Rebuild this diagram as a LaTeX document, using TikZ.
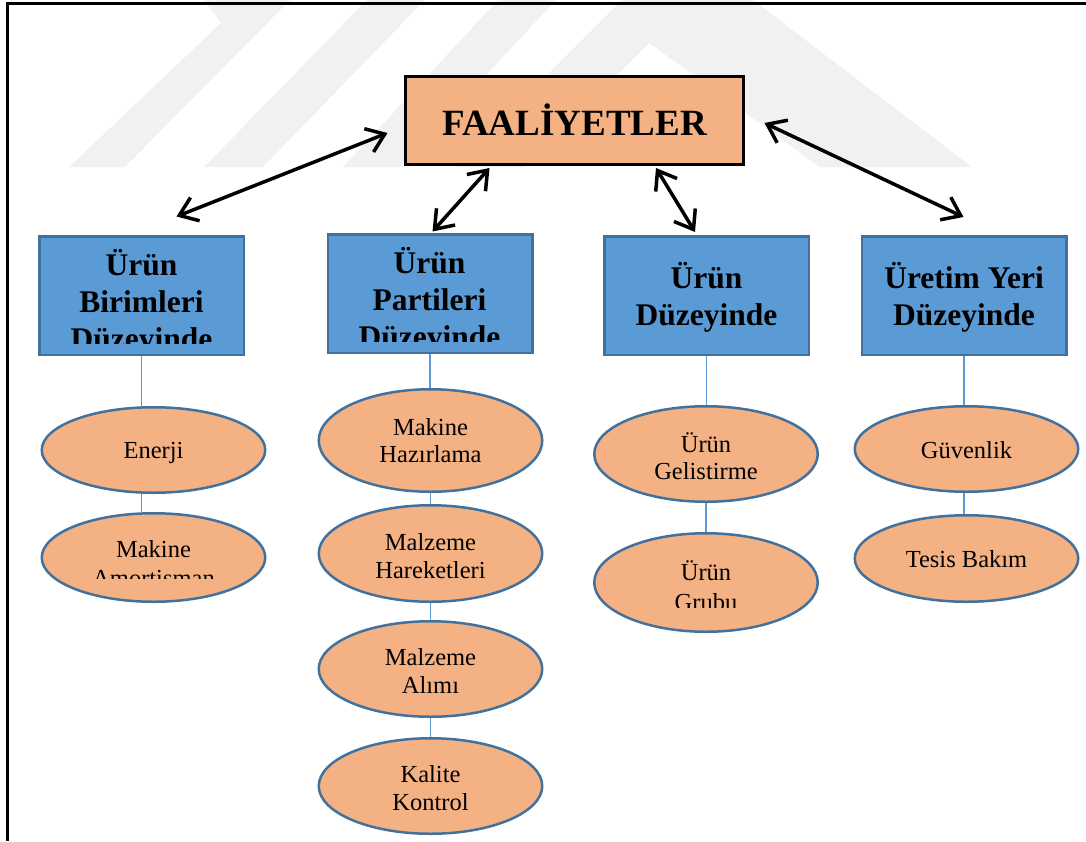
\documentclass[tikz,border=0pt]{standalone}
\usepackage{fontspec}
\setmainfont{Liberation Serif}
\usetikzlibrary{arrows.meta,shapes.geometric,calc}

\definecolor{wm}{HTML}{F1F1F1}
\definecolor{peach}{HTML}{F4B183}
\definecolor{boxblue}{HTML}{5B9BD5}
\definecolor{edgeblue}{HTML}{41719C}

\begin{document}
\begin{tikzpicture}[x=1pt,y=-1pt,
  topbox/.style={draw=black, line width=3pt, fill=peach, minimum width=338pt,
    minimum height=88pt, inner sep=0pt, text height=29pt, text depth=0pt,
    font=\fontsize{37}{44}\selectfont\bfseries},
  levelbox/.style={draw=edgeblue, line width=2.5pt, fill=boxblue,
    minimum width=204.5pt, minimum height=118.5pt, inner sep=0pt},
  act/.style={ellipse, draw=edgeblue, line width=2.5pt, fill=peach,
    minimum width=223.5pt, inner sep=0pt},
  headtxt/.style={anchor=base, inner sep=0pt, font=\fontsize{31.5}{37}\selectfont\bfseries},
  acttxt/.style={anchor=base, inner sep=0pt, font=\fontsize{24.5}{28}\selectfont},
  link/.style={draw=boxblue, line width=1.2pt},
  rel/.style={line width=3.5pt,
    {Straight Barb[length=17pt,width=25pt]}-{Straight Barb[length=17pt,width=25pt]}},
]
\useasboundingbox (0,0) rectangle (1086,841);

% faint background emblem
\fill[wm] (204,0) -- (290,0) -- (125,167) -- (69,167) -- (221,23) -- cycle;
\fill[wm] (367,0) -- (425,0) -- (263,167) -- (204,167) -- cycle;
\fill[wm] (498,0) -- (556,0) -- (400,167) -- (343,167) -- cycle;
\fill[wm] (622,0) -- (753,0) -- (972,167) -- (820,167) -- (649,43)
          -- (525,167) -- (455,167) -- cycle;

% page frame (top and left edges)
\draw[line width=3pt] (1086,3) -- (7.5,3) -- (7.5,841);

% top level
\node[topbox] (fa) at (574.5,120.5) {FAALİYETLER};

% level boxes
\node[levelbox] (b1) at (141.5,295.5) {};
\node[levelbox] (b2) at (430,293.5) {};
\node[levelbox] (b3) at (706.5,295.5) {};
\node[levelbox] (b4) at (964,295.5) {};

% level box titles (the three-line titles overflow their text area)
\begin{scope}
  \clip (30,230) rectangle (250,343.5);
  \node[headtxt] (b1l1) at (141.5,275.5) {Ürün};
  \node[headtxt] (b1l2) at (141.5,312.5) {Birimleri};
  \node[headtxt] (b1l3) at (141.5,349.5) {Düzeyinde};
\end{scope}
\begin{scope}
  \clip (320,228) rectangle (540,341.5);
  \node[headtxt] (b2l1) at (429.5,273.5) {Ürün};
  \node[headtxt] (b2l2) at (429.5,310.5) {Partileri};
  \node[headtxt] (b2l3) at (429.5,347.5) {Düzeyinde};
\end{scope}
\node[headtxt] (b3l1) at (706.5,288) {Ürün};
\node[headtxt] (b3l2) at (706.5,325) {Düzeyinde};
\node[headtxt] (b4l1) at (964,288) {Üretim Yeri};
\node[headtxt] (b4l2) at (964,325) {Düzeyinde};

% activities
\node[act, minimum height=85.5pt] (e11) at (153.5,450) {};
\node[act, minimum height=88.5pt] (e12) at (153.5,557.5) {};
\node[act, minimum height=102.5pt] (e21) at (430.5,440.5) {};
\node[act, minimum height=96.5pt] (e22) at (430.5,553.5) {};
\node[act, minimum height=95.5pt] (e23) at (430.5,669) {};
\node[act, minimum height=95.5pt] (e24) at (430.5,786) {};
\node[act, minimum height=95.5pt] (e31) at (706,454) {};
\node[act, minimum height=98.5pt] (e32) at (706,582.5) {};
\node[act, minimum height=85.5pt] (e41) at (966.5,449) {};
\node[act, minimum height=86.5pt] (e42) at (966.5,558.5) {};

% activity labels
\node[acttxt] (e11l) at (153.5,458) {Enerji};
\node[acttxt] (e12l1) at (153.5,557) {Makine};
\begin{scope}
  \clip (40,540) rectangle (270,578);
  \node[acttxt] (e12l2) at (153.5,586) {Amortisman};
\end{scope}
\node[acttxt] (e21l1) at (430.5,435) {Makine};
\node[acttxt] (e21l2) at (430.5,462) {Hazırlama};
\node[acttxt] (e22l1) at (430.5,550) {Malzeme};
\node[acttxt] (e22l2) at (430.5,578) {Hareketleri};
\node[acttxt] (e23l1) at (430.5,665) {Malzeme};
\node[acttxt] (e23l2) at (430.5,693) {Alımı};
\node[acttxt] (e24l1) at (430.5,782) {Kalite};
\node[acttxt] (e24l2) at (430.5,810) {Kontrol};
\node[acttxt] (e31l1) at (706,452) {Ürün};
\node[acttxt] (e31l2) at (706,479) {Gelistirme};
\node[acttxt] (e32l1) at (706,580.5) {Ürün};
\begin{scope}
  \clip (600,585) rectangle (820,607);
  \node[acttxt] (e32l2) at (706,610.5) {Grubu};
\end{scope}
\node[acttxt] (e41l) at (966.5,458) {Güvenlik};
\node[acttxt] (e42l) at (966.5,567) {Tesis Bakım};

% thin links from each level to its activities
\draw[link] (b1.south) -- (b1.south |- e11.north);
\draw[link] (b1.south |- e11.south) -- (b1.south |- e12.north);
\draw[link] (b2.south) -- (b2.south |- e21.north);
\draw[link] (e21.south) -- (e22.north);
\draw[link] (e22.south) -- (e23.north);
\draw[link] (e23.south) -- (e24.north);
\draw[link] (b3.south) -- (b3.south |- e31.north);
\draw[link] (e31.south) -- (e32.north);
\draw[link] (b4.south) -- (b4.south |- e41.north);
\draw[link] (b4.south |- e41.south) -- (b4.south |- e42.north);

% two-way relations between the top level and each level
\coordinate (r1a) at (176.5,216.5);
\coordinate (r1b) at (387.5,133);
\coordinate (r2a) at (432.5,231.5);
\coordinate (r2b) at (489.5,168);
\coordinate (r3a) at (656,168);
\coordinate (r3b) at (695,232);
\coordinate (r4a) at (764.5,123);
\coordinate (r4b) at (963.5,217);
\draw[rel] (r1a) -- (r1b);
\draw[rel] (r2a) -- (r2b);
\draw[rel] (r3a) -- (r3b);
\draw[rel] (r4a) -- (r4b);
\end{tikzpicture}
\end{document}
